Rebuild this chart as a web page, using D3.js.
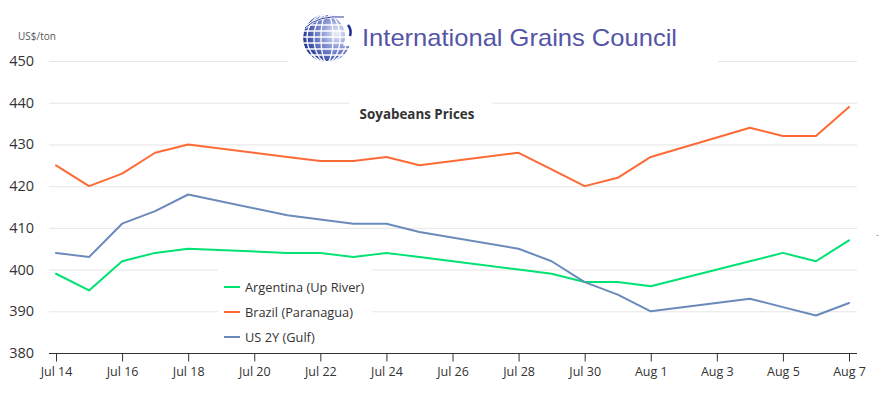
<!DOCTYPE html>
<html>
<head>
<meta charset="utf-8">
<script src="https://cdn.jsdelivr.net/npm/d3@7"></script>
<style>
  body { margin: 0; background: #fff; }
  svg { display: block; font-family: "Segoe UI", "Open Sans", sans-serif; }
</style>
</head>
<body>
<svg id="chart"></svg>
<script>
// Soyabean export prices, US$/ton
const dates = [
  "2025-07-14", "2025-07-15", "2025-07-16", "2025-07-17", "2025-07-18",
  "2025-07-21", "2025-07-22", "2025-07-23", "2025-07-24", "2025-07-25",
  "2025-07-28", "2025-07-29", "2025-07-30", "2025-07-31", "2025-08-01",
  "2025-08-04", "2025-08-05", "2025-08-06", "2025-08-07"
];
const argentina = [399, 395, 402, 404, 405, 404, 404, 403, 404, 403, 400, 399, 397, 397, 396, 402, 404, 402, 407];
const brazil = [425, 420, 423, 428, 430, 427, 426, 426, 427, 425, 428, 424, 420, 422, 427, 434, 432, 432, 439];
const usGulf = [404, 403, 411, 414, 418, 413, 412, 411, 411, 409, 405, 402, 397, 394, 390, 393, 391, 389, 392];
const seriesNames = ["Argentina (Up River)", "Brazil (Paranagua)", "US 2Y (Gulf)"];
const seriesColors = ["#00e272", "#fe6a35", "#6b8abc"];
const yTicks = [380, 390, 400, 410, 420, 430, 440, 450];
const xStart = "2025-07-14";
const xEnd = "2025-08-07";

const width = 879;
const height = 395;
const parseDate = d3.timeParse("%Y-%m-%d");

const svg = d3.select("#chart").attr("width", width).attr("height", height);

const x = d3.scaleTime()
  .domain([parseDate(xStart), parseDate(xEnd)])
  .range([56, 849]);
const y = d3.scaleLinear()
  .domain([380, 450])
  .range([353, 61]);

const plotLeft = 49;
const plotRight = 857;

// gridlines
svg.append("g").attr("class", "grid")
  .selectAll("line")
  .data(yTicks.slice(1))
  .enter()
  .append("line")
  .attr("x1", plotLeft)
  .attr("x2", plotRight)
  .attr("y1", d => y(d) + 0.5)
  .attr("y2", d => y(d) + 0.5)
  .attr("stroke", "#e6e6e6")
  .attr("stroke-width", 1);

// y labels
svg.append("g").attr("class", "y-labels")
  .selectAll("text")
  .data(yTicks)
  .enter()
  .append("text")
  .attr("x", 34)
  .attr("y", d => y(d) + 5)
  .attr("text-anchor", "end")
  .style("font-size", "14.5px")
  .style("fill", "#333")
  .text(d => d);

svg.append("text")
  .attr("x", 18)
  .attr("y", 40)
  .style("font-size", "10px")
  .style("fill", "#555")
  .text("US$/ton");

// x axis
const xAxis = d3.axisBottom(x)
  .tickValues(d3.timeDay.range(parseDate(xStart), d3.timeDay.offset(parseDate(xEnd), 1), 2))
  .tickFormat(d3.timeFormat("%b %-d"))
  .tickSizeInner(8)
  .tickSizeOuter(0)
  .tickPadding(6);

const axisG = svg.append("g")
  .attr("transform", "translate(0," + 353.5 + ")")
  .call(xAxis);
axisG.select(".domain").remove();
axisG.append("line")
  .attr("x1", plotLeft)
  .attr("x2", plotRight)
  .attr("stroke", "#333")
  .attr("stroke-width", 1);
axisG.selectAll(".tick line").attr("stroke", "#333");
axisG.selectAll(".tick text")
  .style("font-size", "12.5px")
  .style("font-family", "\"Segoe UI\", \"Open Sans\", sans-serif")
  .style("fill", "#333");

// series lines
const series = [argentina, brazil, usGulf].map((values, i) => {
  return {
    name: seriesNames[i],
    color: seriesColors[i],
    points: values.map((v, j) => ({date: parseDate(dates[j]), value: v}))
  };
});

const line = d3.line()
  .x(d => x(d.date))
  .y(d => y(d.value));

svg.append("g").attr("class", "series")
  .selectAll("path")
  .data(series)
  .enter()
  .append("path")
  .attr("d", s => line(s.points))
  .attr("fill", "none")
  .attr("stroke", s => s.color)
  .attr("stroke-width", 2)
  .attr("stroke-linejoin", "round")
  .attr("stroke-linecap", "round");

// legend box (covers the gridlines behind it)
const legend = svg.append("g").attr("class", "legend");
legend.append("rect")
  .attr("x", 218).attr("y", 268)
  .attr("width", 154).attr("height", 78)
  .attr("fill", "#fff");
const legendItem = legend.selectAll("g")
  .data(series)
  .enter()
  .append("g")
  .attr("transform", (s, i) => "translate(224," + (287 + i * 25) + ")");
legendItem.append("line")
  .attr("x1", 0).attr("x2", 16)
  .attr("stroke", s => s.color)
  .attr("stroke-width", 2);
legendItem.append("text")
  .attr("x", 21)
  .attr("y", 5)
  .style("font-size", "12.8px")
  .style("fill", "#333")
  .text(s => s.name);

// title
svg.append("rect")
  .attr("x", 349).attr("y", 95)
  .attr("width", 143).attr("height", 30)
  .attr("fill", "#fff");
svg.append("text")
  .attr("x", 417)
  .attr("y", 119)
  .attr("text-anchor", "middle")
  .style("font-size", "13.4px")
  .style("font-weight", "bold")
  .style("fill", "#333")
  .text("Soyabeans Prices");

// logo banner
const logo = svg.append("g").attr("class", "logo");
logo.append("rect")
  .attr("x", 288).attr("y", 0)
  .attr("width", 430).attr("height", 63)
  .attr("fill", "#fff");

const defs = svg.append("defs");
const grad = defs.append("radialGradient")
  .attr("id", "globeGrad")
  .attr("cx", "70%").attr("cy", "40%").attr("r", "75%");
grad.append("stop").attr("offset", "0%").attr("stop-color", "#eef0fa");
grad.append("stop").attr("offset", "40%").attr("stop-color", "#8c9ad6");
grad.append("stop").attr("offset", "100%").attr("stop-color", "#1a2c92");
defs.append("clipPath").attr("id", "globeClip")
  .append("circle").attr("cx", 327).attr("cy", 38).attr("r", 24);

const globe = logo.append("g").attr("clip-path", "url(#globeClip)");
globe.append("circle")
  .attr("cx", 327).attr("cy", 38).attr("r", 24)
  .attr("fill", "url(#globeGrad)");
// latitude bands
globe.selectAll("line.lat")
  .data([25, 31, 37, 43, 49, 55])
  .enter()
  .append("line")
  .attr("class", "lat")
  .attr("x1", 300).attr("x2", 356)
  .attr("y1", d => d).attr("y2", d => d)
  .attr("stroke", "#fff")
  .attr("stroke-width", 1.3);
// meridians
globe.selectAll("ellipse")
  .data([6, 13, 20])
  .enter()
  .append("ellipse")
  .attr("cx", 327).attr("cy", 38)
  .attr("rx", d => d).attr("ry", 24)
  .attr("fill", "none")
  .attr("stroke", "#fff")
  .attr("stroke-width", 1.3);
// open upper-right part of the globe
globe.append("path")
  .attr("d", "M334,17 Q350,28 343,46 L358,46 L358,10 Z")
  .attr("fill", "#fff");
logo.append("path")
  .attr("d", "M348,25 Q352,30 350,36")
  .attr("fill", "none")
  .attr("stroke", "#1c2f94")
  .attr("stroke-width", 2.5);
// wheat ear over the top
logo.append("path")
  .attr("d", "M305,28 Q318,15 344,17")
  .attr("fill", "none")
  .attr("stroke", "#fff")
  .attr("stroke-width", 2.5);
logo.append("path")
  .attr("d", "M305,28 Q318,15 344,17")
  .attr("fill", "none")
  .attr("stroke", "#2b3fa0")
  .attr("stroke-width", 1);

logo.append("text")
  .attr("x", 362)
  .attr("y", 46)
  .attr("textLength", 315)
  .attr("lengthAdjust", "spacingAndGlyphs")
  .style("font-family", "\"Liberation Sans\", Arial, sans-serif")
  .style("font-size", "24px")
  .style("fill", "#5555a8")
  .text("International Grains Council");

// small stray mark at the right edge
svg.append("line")
  .attr("x1", 876).attr("x2", 879)
  .attr("y1", 235.5).attr("y2", 235.5)
  .attr("stroke", "#bbb");
</script>
</body>
</html>
